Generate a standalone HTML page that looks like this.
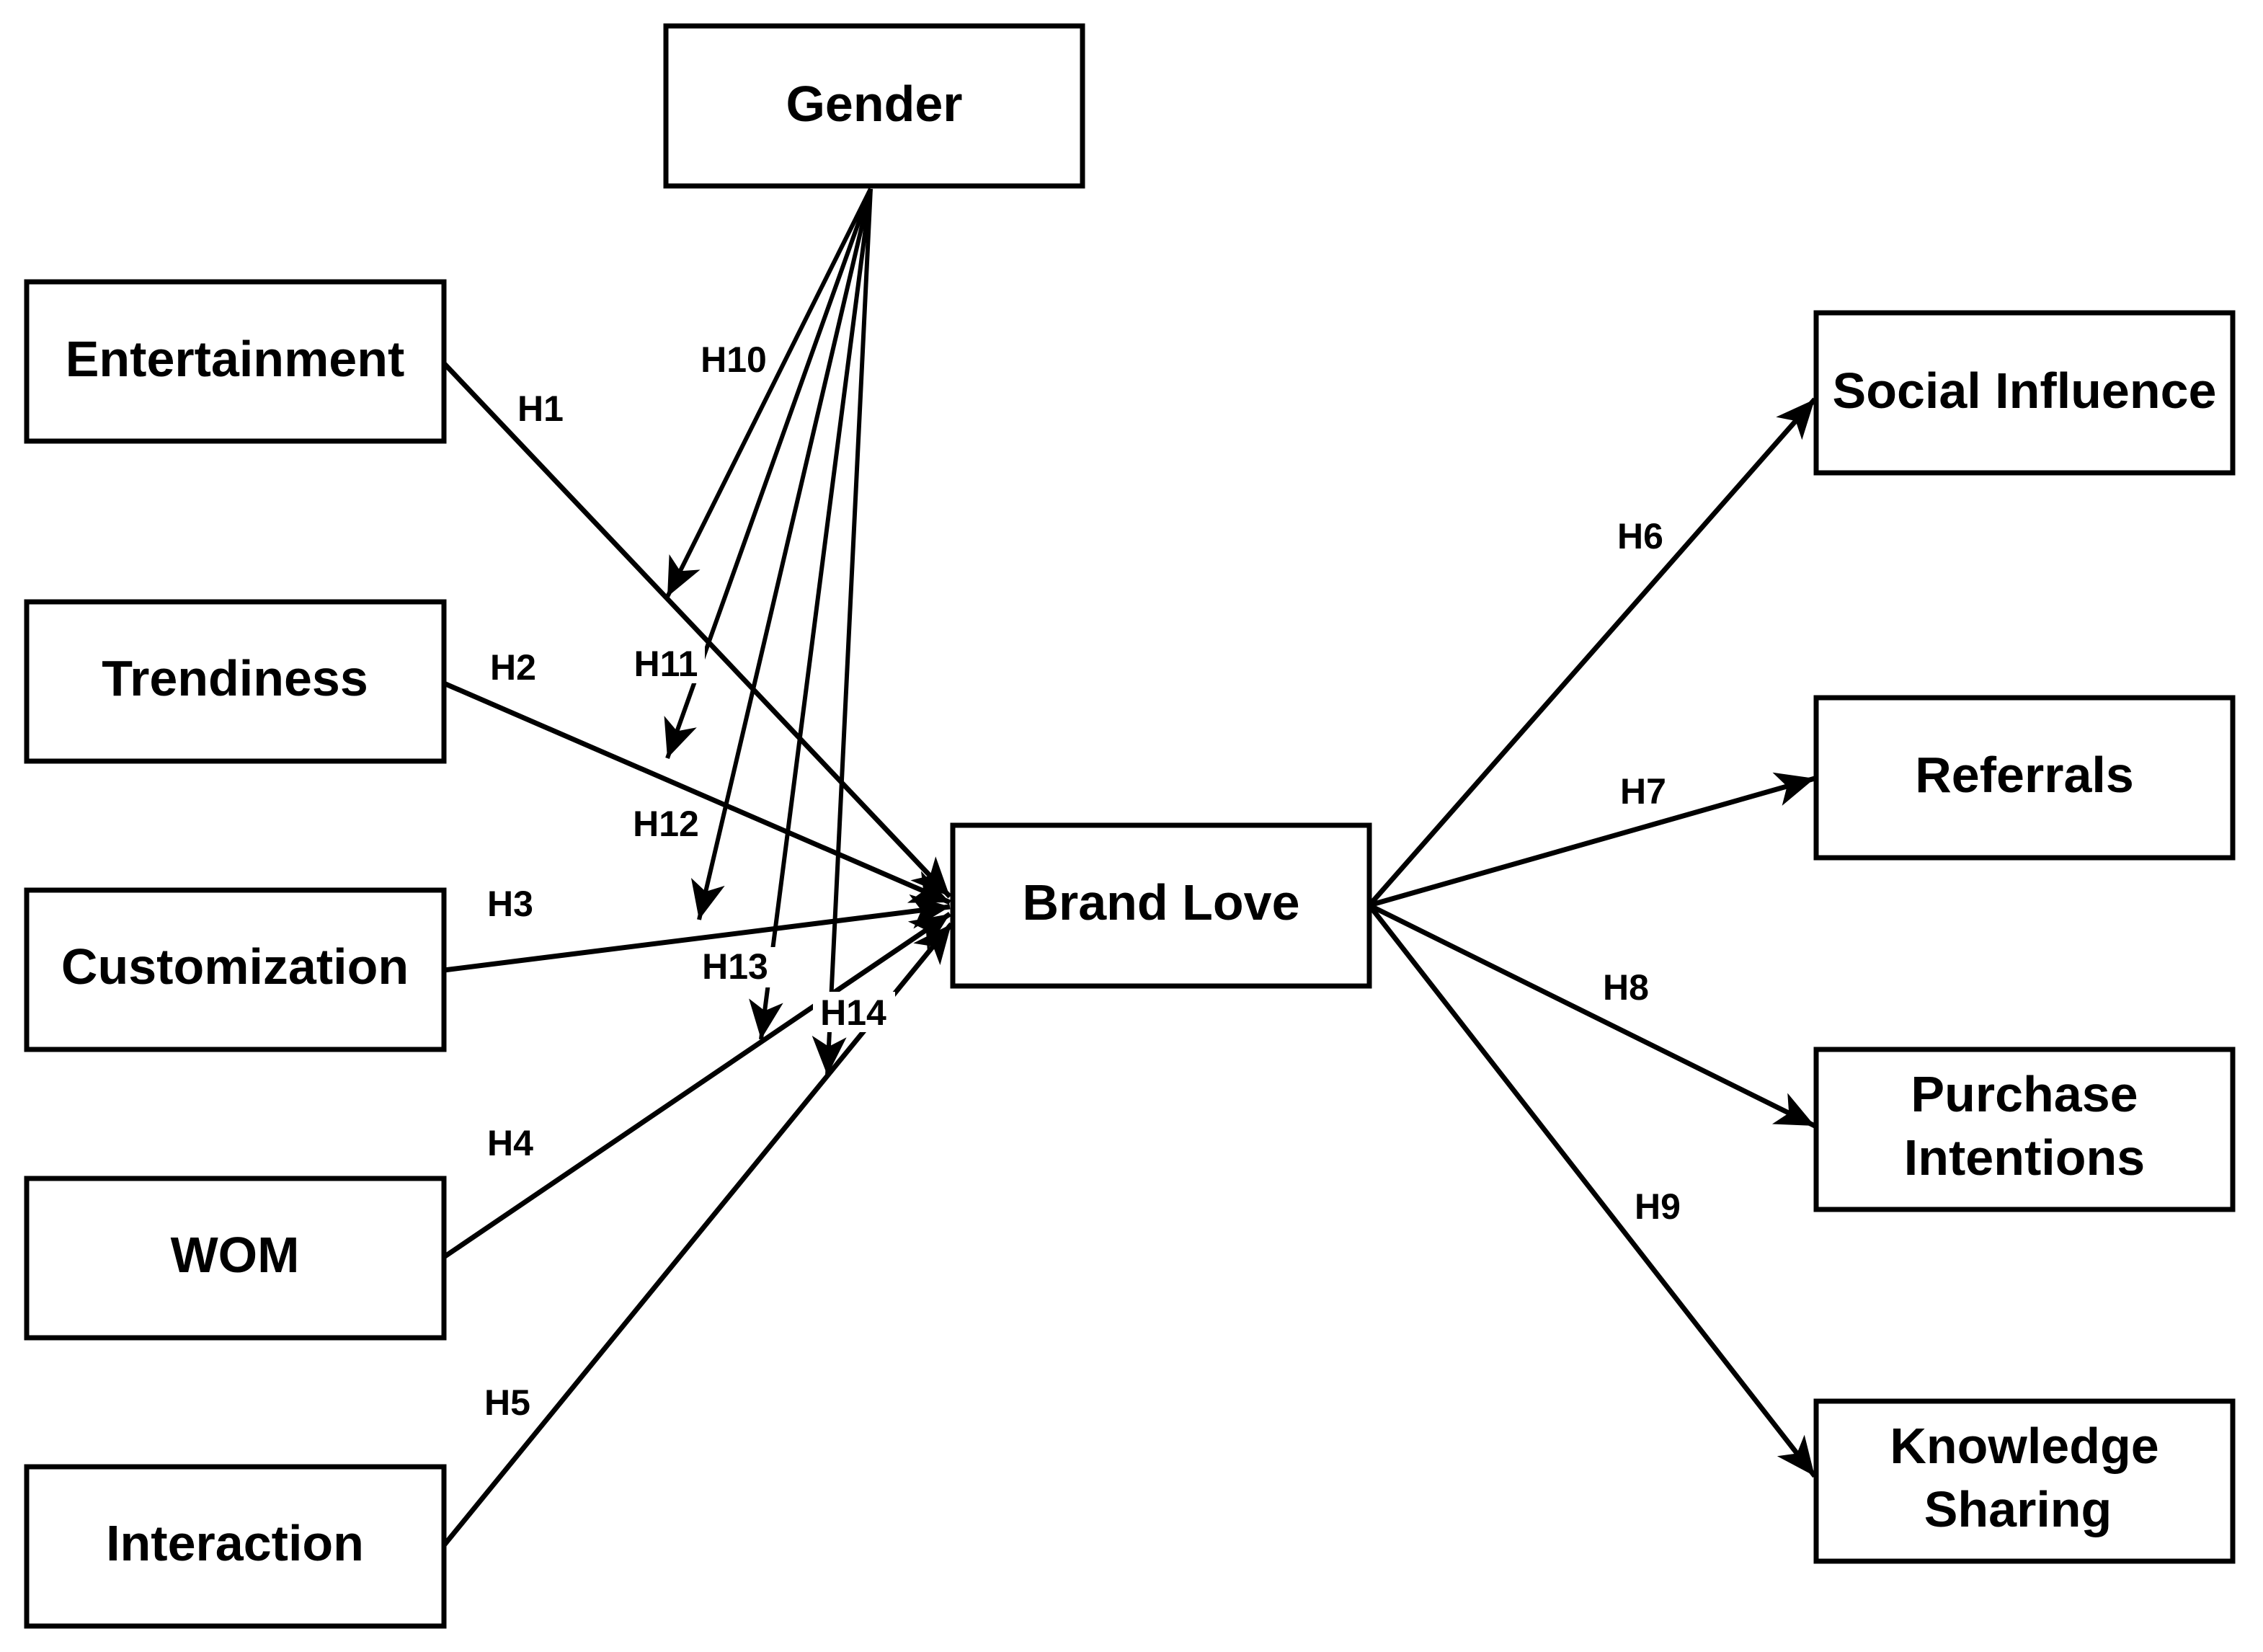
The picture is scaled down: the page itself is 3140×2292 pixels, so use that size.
<!DOCTYPE html>
<html><head><meta charset="utf-8"><style>
html,body{margin:0;padding:0;background:#fff;}
svg{display:block;}
text{font-family:"Liberation Sans",Arial,sans-serif;font-weight:bold;fill:#000;}
</style></head><body>
<svg width="3140" height="2292" viewBox="0 0 3140 2292" xmlns="http://www.w3.org/2000/svg">
<defs>
<marker id="a" markerUnits="userSpaceOnUse" markerWidth="80" markerHeight="60" refX="54" refY="26" orient="auto">
<path d="M0,2 L54,26 L0,50 L14,26 Z" fill="#000"/>
</marker>
</defs>
<g fill="#fff" stroke="#000" stroke-width="7">
<rect x="924" y="36" width="578" height="222"/>
<rect x="37" y="391" width="579" height="221"/>
<rect x="37" y="835" width="579" height="221"/>
<rect x="37" y="1235" width="579" height="221"/>
<rect x="37" y="1635" width="579" height="221"/>
<rect x="37" y="2035" width="579" height="221"/>
<rect x="1322" y="1145" width="578" height="223"/>
<rect x="2520" y="434" width="578" height="222"/>
<rect x="2520" y="968" width="578" height="222"/>
<rect x="2520" y="1456" width="578" height="222"/>
<rect x="2520" y="1944" width="578" height="222"/>
</g>
<g stroke="#000" stroke-width="7" fill="none" marker-end="url(#a)">
<line x1="616" y1="504" x2="1318" y2="1244"/>
<line x1="616" y1="948" x2="1318" y2="1252"/>
<line x1="616" y1="1346" x2="1318" y2="1258"/>
<line x1="616" y1="1744" x2="1318" y2="1268"/>
<line x1="616" y1="2144" x2="1320" y2="1282"/>
<line x1="1900" y1="1256" x2="2518" y2="554"/>
<line x1="1900" y1="1256" x2="2518" y2="1080"/>
<line x1="1900" y1="1256" x2="2518" y2="1562"/>
<line x1="1900" y1="1256" x2="2518" y2="2048"/>
</g>
<g stroke="#000" stroke-width="6" fill="none" marker-end="url(#a)">
<line x1="1208" y1="262" x2="926" y2="828"/>
<line x1="1208" y1="262" x2="926" y2="1052"/>
<line x1="1208" y1="262" x2="970" y2="1276"/>
<line x1="1208" y1="262" x2="1056" y2="1442"/>
<line x1="1208" y1="262" x2="1148" y2="1492"/>
</g>
<g font-size="70" text-anchor="middle">
<text x="1213" y="168">Gender</text>
<text x="326" y="522">Entertainment</text>
<text x="326" y="965">Trendiness</text>
<text x="326" y="1365">Customization</text>
<text x="326" y="1765">WOM</text>
<text x="326" y="2165">Interaction</text>
<text x="1611" y="1276">Brand Love</text>
<text x="2809" y="566">Social Influence</text>
<text x="2809" y="1099">Referrals</text>
<text x="2809" y="1542">Purchase</text>
<text x="2809" y="1630">Intentions</text>
<text x="2809" y="2030">Knowledge</text>
<text x="2800" y="2118">Sharing</text>
</g>
<g font-size="50" text-anchor="middle">
<rect x="960" y="470" width="112" height="56" fill="#fff"/>
<rect x="870" y="892" width="108" height="56" fill="#fff"/>
<rect x="870" y="1116" width="112" height="56" fill="#fff"/>
<rect x="962" y="1314" width="114" height="56" fill="#fff"/>
<rect x="1128" y="1376" width="114" height="56" fill="#fff"/>
<text x="750" y="584">H1</text>
<text x="712" y="943">H2</text>
<text x="708" y="1271">H3</text>
<text x="708" y="1603">H4</text>
<text x="704" y="1963">H5</text>
<text x="2276" y="761">H6</text>
<text x="2280" y="1115">H7</text>
<text x="2256" y="1387">H8</text>
<text x="2300" y="1691">H9</text>
<text x="1018" y="516">H10</text>
<text x="924" y="938">H11</text>
<text x="924" y="1160">H12</text>
<text x="1020" y="1358">H13</text>
<text x="1184" y="1422">H14</text>
</g>
</svg>
</body></html>
